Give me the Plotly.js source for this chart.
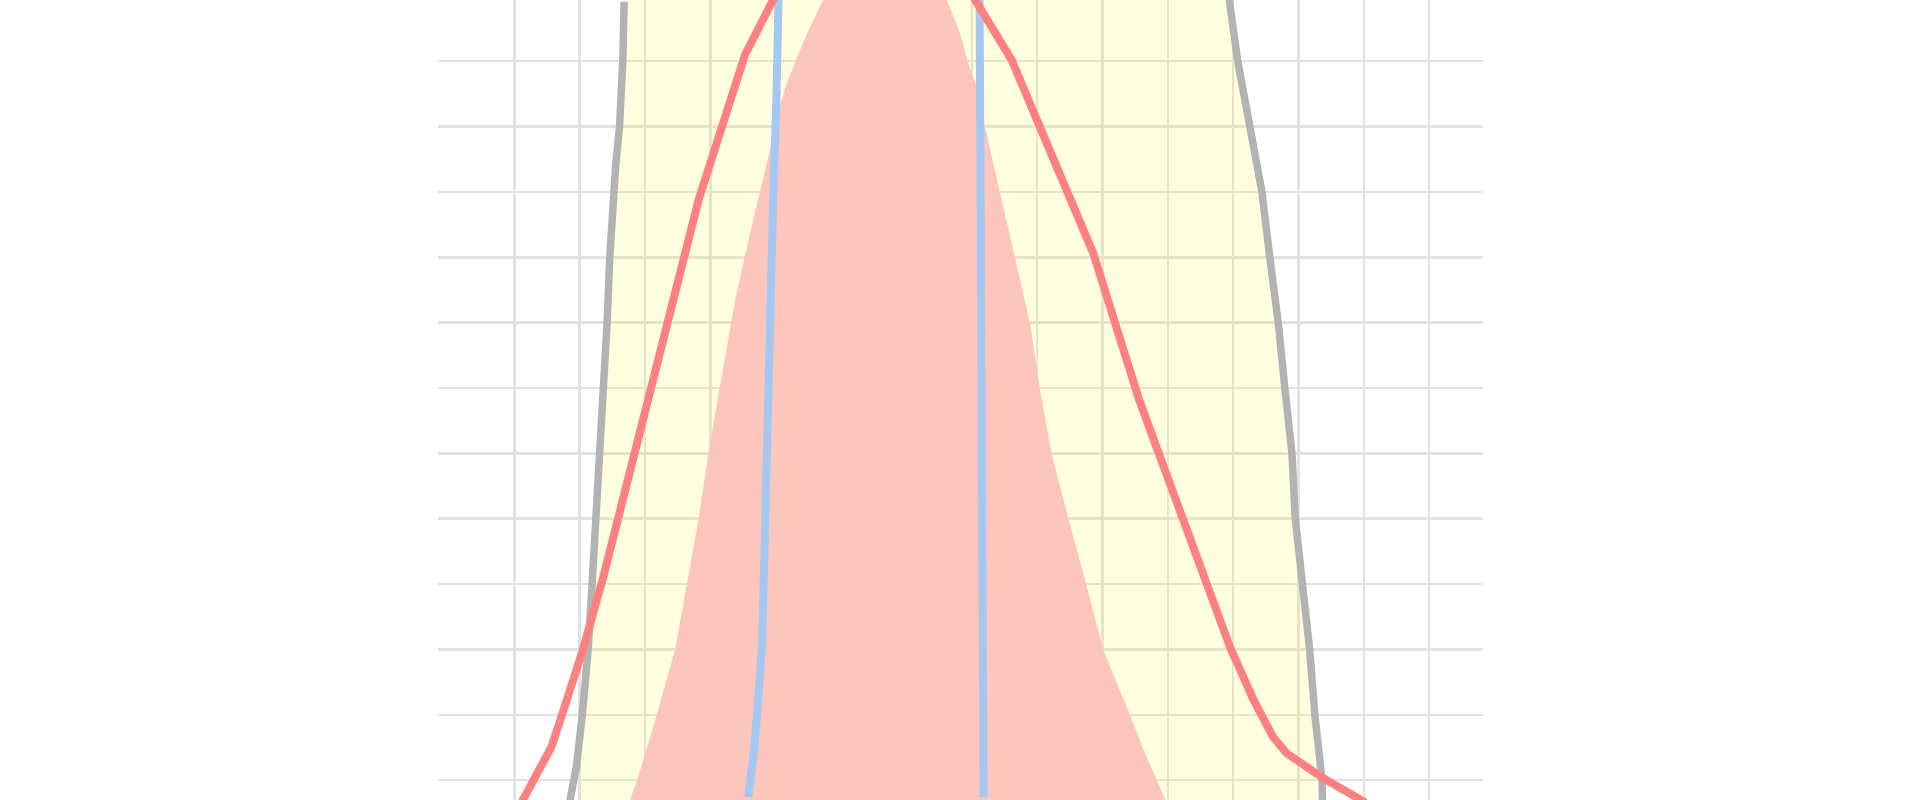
<!DOCTYPE html>
<html>
<head>
<meta charset="utf-8">
<script src="https://cdn.plot.ly/plotly-3.0.1.min.js"></script>
<style>
  html, body { margin: 0; padding: 0; background: #ffffff; }
  #chart { width: 1920px; height: 800px; }
</style>
</head>
<body>
<div id="chart"></div>
<script>
// Grid positions (tick values, labels hidden)
const gridX = [1,2,3,4,5,6,7,8,9,10,11,12,13,14,15];
const gridY = [1,2,3,4,5,6,7,8,9,10,11,12];

// Yellow band (closed outline)
const bandX = [2.00,2.01,2.05,2.10,2.17,2.23,2.30,2.34,2.40,2.46,2.50,2.56,2.66,2.70,2.72,2.73,
               11.91,11.93,12.05,12.24,12.42,12.54,12.67,12.77,12.87,12.93,13.05,13.14,13.21,13.27,13.28];
const bandY = [0.47,1.31,1.77,2.23,3.00,4.00,5.00,6.00,7.00,8.00,9.00,10.00,11.00,12.00,12.94,13.09,
               13.09,12.94,12.00,11.00,10.00,9.00,8.00,7.00,6.00,5.00,4.00,3.00,2.00,1.00,0.47];

// Salmon filled curve
const salmonX = [2.50,2.77,2.88,3.03,3.18,3.32,3.46,3.64,3.82,3.97,4.11,4.20,4.29,4.38,4.49,4.61,4.73,4.85,4.97,5.09,5.17,5.31,5.48,5.73,6.05,6.70,
                 7.38,7.62,7.82,7.96,8.06,8.20,8.43,8.66,8.89,9.04,9.22,9.48,9.75,10.01,10.42,10.63,10.83,10.96,11.19];
const salmonY = [0.00,0.70,1.00,1.50,2.00,2.50,3.00,4.00,5.00,6.00,6.82,7.33,7.84,8.35,8.86,9.37,9.88,10.39,10.90,11.41,11.66,12.02,12.43,12.94,13.55,15.23,
                 13.55,12.94,12.43,11.92,11.66,11.00,10.00,9.00,8.00,7.00,6.00,5.00,4.00,3.00,2.00,1.46,1.00,0.70,0.00];

// Gray outline (gap at the top)
const grayX = [1.81,1.90,1.95,2.04,2.13,2.19,2.25,2.30,2.37,2.42,2.46,2.52,2.55,2.61,2.64,2.66,2.68,null,
               11.91,11.94,12.07,12.26,12.44,12.56,12.69,12.79,12.90,12.95,13.07,13.17,13.25,13.36,13.37];
const grayY = [0.47,1.00,1.21,2.00,3.00,4.00,5.00,6.00,7.00,8.00,9.00,10.00,10.39,11.00,11.46,12.00,12.91,null,
               13.09,12.94,12.00,11.00,10.00,9.00,8.00,7.00,6.00,5.00,4.00,3.00,2.00,1.00,0.47];

// Blue line
const blueX = [4.58,4.67,4.73,4.79,4.81,4.84,4.88,4.92,4.96,5.01,5.05,5.06,6.60,8.12,8.12,8.15,8.16,8.18];
const blueY = [0.74,1.46,2.23,3.04,3.76,5.29,6.82,8.35,9.88,11.41,12.94,13.70,17.53,13.70,12.94,6.82,3.76,0.74];

// Red line
const redX = [1.09,1.57,1.72,2.05,2.36,2.66,3.05,3.43,3.82,4.05,4.25,4.53,4.96,5.20,6.52,
              7.77,8.05,8.61,9.04,9.86,10.56,10.88,11.60,11.95,12.31,12.46,12.61,12.82,13.02,13.23,13.43,13.64,13.84,14.02];
const redY = [0.62,1.51,1.97,3.00,4.10,5.29,6.82,8.35,9.88,10.60,11.25,12.10,12.94,13.40,16.00,
              13.40,12.94,12.02,11.00,9.06,6.82,5.95,4.01,3.04,2.23,1.92,1.66,1.41,1.26,1.13,1.00,0.87,0.74,0.66];

const traces = [
  { x: bandX, y: bandY, type: 'scatter', mode: 'none', fill: 'toself',
    fillcolor: 'rgba(255,255,0,0.12)', hoverinfo: 'skip' },
  { x: salmonX, y: salmonY, type: 'scatter', mode: 'none', fill: 'tozeroy',
    fillcolor: 'rgb(252,198,188)', hoverinfo: 'skip' },
  { x: grayX, y: grayY, type: 'scatter', mode: 'lines', connectgaps: false,
    line: { color: '#b3b3b3', width: 7.5 }, hoverinfo: 'skip' },
  { x: blueX, y: blueY, type: 'scatter', mode: 'lines',
    line: { color: '#a5c8f0', width: 8 }, hoverinfo: 'skip' },
  { x: redX, y: redY, type: 'scatter', mode: 'lines',
    line: { color: '#ff8080', width: 8 }, hoverinfo: 'skip' }
];

const layout = {
  width: 1920, height: 800,
  margin: { l: 438, r: 437, t: 0, b: 0, pad: 0 },
  paper_bgcolor: '#ffffff', plot_bgcolor: '#ffffff',
  showlegend: false,
  xaxis: { range: [-0.168, 15.823], tickmode: 'array', tickvals: gridX,
           showticklabels: false, ticks: '', showline: false, zeroline: false,
           showgrid: true, gridcolor: '#e2e2e2', gridwidth: 2.5, fixedrange: true },
  yaxis: { range: [0.6955, 12.937], tickmode: 'array', tickvals: gridY,
           showticklabels: false, ticks: '', showline: false, zeroline: false,
           showgrid: true, gridcolor: '#e2e2e2', gridwidth: 2.5, fixedrange: true }
};

Plotly.newPlot('chart', traces, layout, { staticPlot: true, displayModeBar: false });
</script>
</body>
</html>
